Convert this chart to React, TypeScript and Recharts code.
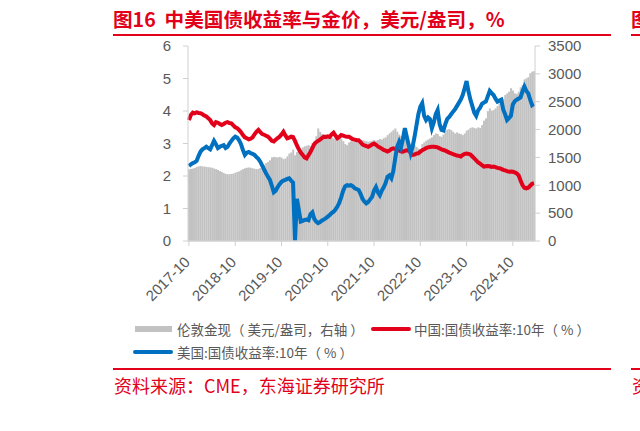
import React from "react";
import { ComposedChart, Bar, Line, XAxis, YAxis } from "recharts";

// semi-monthly observations, 2017-10 (first half) .. 2025-03 (second half)
const START_YEAR = 2017;
const START_MONTH = 10;
const N_POINTS = 180;

const xTickLabels = ["2017-10", "2018-10", "2019-10", "2020-10", "2021-10", "2022-10", "2023-10", "2024-10"];
const leftTicks = [0, 1, 2, 3, 4, 5, 6];
const rightTicks = [0, 500, 1000, 1500, 2000, 2500, 3000, 3500];

const goldPrice = [
  1285, 1295, 1300, 1310, 1330, 1340, 1345, 1340, 1335, 1330, 1325, 1320, 1315, 1300, 1290, 1275, 1255, 1240, 1220, 1205,
  1198, 1200, 1205, 1210, 1225, 1240, 1250, 1270, 1290, 1305, 1315, 1320, 1315, 1305, 1295, 1290, 1295, 1310, 1340, 1370,
  1400, 1420, 1450, 1500, 1510, 1505, 1500, 1510, 1495, 1470, 1480, 1520, 1570, 1590, 1640, 1540, 1600, 1620, 1630, 1680,
  1700, 1710, 1720, 1700, 1760, 1800, 1880, 2020, 1960, 1920, 1900, 1890, 1880, 1860, 1860, 1840, 1850, 1870, 1860, 1830,
  1790, 1740, 1720, 1770, 1790, 1780, 1790, 1810, 1780, 1790, 1810, 1800, 1790, 1780, 1790, 1800, 1810, 1800, 1810, 1830,
  1820, 1845, 1860, 1900, 1930, 1960, 1990, 2020, 1960, 1910, 1880, 1860, 1840, 1810, 1780, 1730, 1700, 1720, 1690, 1660,
  1650, 1740, 1770, 1800, 1820, 1840, 1860, 1900, 1930, 1920, 1880, 1870, 1910, 1980, 2000, 2010, 1990, 1960, 1930, 1950,
  1930, 1920, 1900, 1930, 1980, 2000, 2030, 2040, 2030, 2020, 2040, 2030, 2080, 2160, 2200, 2330, 2380, 2340, 2350, 2380,
  2420, 2470, 2500, 2550, 2620, 2650, 2680, 2740, 2700, 2650, 2640, 2680, 2760, 2800, 2900, 2920, 2940, 3010, 3040, 3050,
];

const chinaYield10y = [
  3.72, 3.88, 3.95, 3.93, 3.96, 3.94, 3.93, 3.9, 3.86, 3.83, 3.78, 3.72, 3.62, 3.57, 3.66, 3.64, 3.6, 3.57, 3.6, 3.64,
  3.66, 3.63, 3.62, 3.56, 3.5, 3.47, 3.42, 3.35, 3.26, 3.19, 3.16, 3.13, 3.15, 3.19, 3.28, 3.36, 3.42, 3.35, 3.29, 3.27,
  3.24, 3.21, 3.15, 3.08, 3.06, 3.12, 3.17, 3.21, 3.28, 3.36, 3.25, 3.16, 3.18, 3.21, 3.2, 3.08, 2.94, 2.82, 2.72, 2.65,
  2.57, 2.54, 2.64, 2.74, 2.86, 2.98, 3.04, 3.08, 3.12, 3.17, 3.21, 3.2, 3.22, 3.2, 3.28, 3.33, 3.24, 3.16, 3.2, 3.26,
  3.24, 3.22, 3.21, 3.21, 3.17, 3.13, 3.12, 3.1, 3.1, 3.04, 2.97, 2.94, 2.92, 2.9, 2.93, 2.97, 3.0, 2.96, 2.91, 2.88,
  2.84, 2.8, 2.78, 2.75, 2.78, 2.83, 2.85, 2.83, 2.8, 2.78, 2.76, 2.75, 2.77, 2.79, 2.78, 2.72, 2.65, 2.66, 2.69, 2.7,
  2.75, 2.79, 2.82, 2.86, 2.88, 2.89, 2.9, 2.9, 2.89, 2.88, 2.85, 2.82, 2.8, 2.78, 2.75, 2.72, 2.7, 2.67, 2.65, 2.63,
  2.62, 2.6, 2.65, 2.68, 2.69, 2.68, 2.66, 2.6, 2.54, 2.48, 2.42, 2.38, 2.33, 2.29, 2.3, 2.31, 2.3, 2.28, 2.29, 2.27,
  2.25, 2.24, 2.22, 2.19, 2.17, 2.15, 2.13, 2.14, 2.13, 2.11, 2.08, 2.02, 1.86, 1.72, 1.64, 1.62, 1.64, 1.7, 1.76, 1.78,
];

const usYield10y = [
  2.31, 2.36, 2.4, 2.42, 2.47, 2.62, 2.75, 2.82, 2.86, 2.9, 2.86, 2.82, 2.95, 3.08, 2.98, 2.86, 2.9, 2.93, 2.95, 2.86,
  2.9, 3.0, 3.08, 3.16, 3.21, 3.18, 3.1, 2.98, 2.8, 2.65, 2.72, 2.74, 2.7, 2.68, 2.65, 2.58, 2.53, 2.44, 2.32, 2.2,
  2.08, 1.98, 1.88, 1.7, 1.5, 1.55, 1.66, 1.75, 1.82, 1.86, 1.88, 1.91, 1.93, 1.86, 1.8, 0.0, 1.3, 0.95, 0.6, 0.62,
  0.65, 0.66, 0.64, 0.82, 0.88, 0.68, 0.6, 0.55, 0.58, 0.63, 0.66, 0.7, 0.75, 0.8, 0.86, 0.9, 0.97, 1.06, 1.18, 1.35,
  1.55, 1.68, 1.72, 1.7, 1.72, 1.68, 1.62, 1.6, 1.57, 1.45, 1.3, 1.22, 1.16, 1.2, 1.28, 1.36, 1.55, 1.66, 1.5, 1.41,
  1.55, 1.65, 1.78, 1.98, 2.02, 1.93, 2.15, 2.55, 2.9, 3.05, 2.88, 3.15, 3.47, 3.2, 2.95, 2.7, 2.9, 3.2, 3.55, 3.9,
  4.13, 4.24, 3.85, 3.72, 3.8, 3.75, 3.47, 3.65, 3.9, 4.03, 3.6, 3.42, 3.4, 3.6, 3.76, 3.82, 3.9, 3.98, 4.05, 4.15,
  4.25, 4.35, 4.49, 4.7, 4.92, 4.6, 4.35, 4.15, 3.95, 3.85, 4.02, 4.1, 4.22, 4.26, 4.29, 4.45, 4.62, 4.55, 4.49, 4.38,
  4.29, 4.32, 4.35, 4.05, 3.9, 3.72, 3.78, 3.85, 4.2, 4.3, 4.35, 4.38, 4.42, 4.6, 4.75, 4.62, 4.54, 4.35, 4.18, 4.22,
];

const dates: string[] = [];
for (let i = 0; i < N_POINTS; i++) {
  const m0 = START_MONTH - 1 + Math.floor(i / 2);
  const y = START_YEAR + Math.floor(m0 / 12);
  const mm = (m0 % 12) + 1;
  dates.push(`${y}-${String(mm).padStart(2, "0")}-${i % 2 === 0 ? "01" : "16"}`);
}

const data = dates.map((d, i) => ({
  date: d,
  gold: goldPrice[i],
  cn: chinaYield10y[i],
  us: usYield10y[i],
}));

const xTicks = xTickLabels.map((l) => `${l}-01`);

const RED = "#E2001A";
const BLUE = "#0070C0";
const GREY = "#C2C2C2";
const AXIS = "#D0D0D0";
const LABEL = "#595959";
const FONT = '"Liberation Sans", Arial, "Noto Sans CJK SC", sans-serif';
const CJK = '"Noto Sans CJK SC", "Liberation Sans", sans-serif';

const XTick = (props: any) => {
  const { x, payload } = props;
  const ax = x + 2;
  const ay = 263;
  return (
    <text
      x={ax}
      y={ay}
      textAnchor="end"
      fill={LABEL}
      fontSize={15}
      fontFamily={FONT}
      transform={`rotate(-45 ${ax} ${ay})`}
    >
      {String(payload.value).slice(0, 7)}
    </text>
  );
};

const textBase: React.CSSProperties = {
  position: "absolute",
  whiteSpace: "nowrap",
  textSpacingTrim: "space-all",
} as React.CSSProperties;

export default function App() {
  return (
    <div
      style={{
        position: "absolute",
        left: 0,
        top: 0,
        width: 640,
        height: 431,
        background: "#fff",
        overflow: "hidden",
        fontFamily: CJK,
      }}
    >
      {/* title */}
      <div style={{ ...textBase, left: 113, top: 7, fontSize: 19.6, fontWeight: 700, color: RED, lineHeight: "24px" }}>
        图16&nbsp;&nbsp;中美国债收益率与金价，美元/盎司，%
      </div>
      <div style={{ position: "absolute", left: 113, top: 34, width: 498, height: 2, background: RED }} />
      <div style={{ ...textBase, left: 631, top: 7, fontSize: 19.6, fontWeight: 700, color: RED, lineHeight: "24px", width: 9, overflow: "hidden" }}>
        图
      </div>
      <div style={{ position: "absolute", left: 631, top: 34, width: 9, height: 2, background: RED }} />

      <div style={{ position: "absolute", left: 0, top: 0 }}>
        <ComposedChart
          width={640}
          height={431}
          data={data}
          margin={{ top: 46, right: 0, bottom: 130, left: 0 }}
          barCategoryGap="5%"
        >
          <XAxis
            dataKey="date"
            ticks={xTicks}
            interval={0}
            tick={<XTick />}
            tickLine={{ stroke: AXIS }}
            axisLine={{ stroke: AXIS, strokeWidth: 1.5 }}
            tickSize={5}
            height={60}
          />
          <YAxis
            yAxisId="left"
            orientation="left"
            domain={[0, 6]}
            ticks={leftTicks}
            width={188}
            tickSize={5}
            tickMargin={12}
            axisLine={{ stroke: AXIS }}
            tickLine={{ stroke: AXIS }}
            tick={{ fill: LABEL, fontSize: 15, fontFamily: FONT }}
            allowDataOverflow
          />
          <YAxis
            yAxisId="right"
            orientation="right"
            domain={[0, 3500]}
            ticks={rightTicks}
            width={105}
            tickSize={5}
            tickMargin={8}
            axisLine={{ stroke: AXIS }}
            tickLine={{ stroke: AXIS }}
            tick={{ fill: LABEL, fontSize: 15, fontFamily: FONT, textAnchor: "start" }}
          />
          <Bar yAxisId="right" dataKey="gold" fill={GREY} isAnimationActive={false} />
          <Line
            yAxisId="left"
            type="linear"
            dataKey="cn"
            stroke={RED}
            strokeWidth={4}
            dot={false}
            activeDot={false}
            isAnimationActive={false}
          />
          <Line
            yAxisId="left"
            type="linear"
            dataKey="us"
            stroke={BLUE}
            strokeWidth={4}
            dot={false}
            activeDot={false}
            isAnimationActive={false}
          />
        </ComposedChart>
      </div>

      {/* legend */}
      <div style={{ position: "absolute", left: 135, top: 326, width: 37, height: 6, background: GREY }} />
      <div style={{ ...textBase, left: 177, top: 320, fontSize: 13.5, color: LABEL, lineHeight: "18px" }}>
        伦敦金现（ 美元/盎司，右轴 ）
      </div>
      <div style={{ position: "absolute", left: 371, top: 327, width: 40, height: 4, borderRadius: 2, background: RED }} />
      <div style={{ ...textBase, left: 414, top: 320, fontSize: 13.5, color: LABEL, lineHeight: "18px" }}>
        中国:国债收益率:10年（ % ）
      </div>
      <div style={{ position: "absolute", left: 133, top: 350, width: 40, height: 4, borderRadius: 2, background: BLUE }} />
      <div style={{ ...textBase, left: 177, top: 343, fontSize: 13.5, color: LABEL, lineHeight: "18px" }}>
        美国:国债收益率:10年（ % ）
      </div>

      {/* source */}
      <div style={{ position: "absolute", left: 113, top: 368, width: 498, height: 2, background: RED }} />
      <div style={{ ...textBase, left: 114, top: 373, fontSize: 18, color: RED, lineHeight: "24px" }}>
        资料来源：CME，东海证券研究所
      </div>
      <div style={{ position: "absolute", left: 631, top: 368, width: 9, height: 2, background: RED }} />
      <div style={{ ...textBase, left: 632, top: 373, fontSize: 18, color: RED, lineHeight: "24px", width: 8, overflow: "hidden" }}>
        资
      </div>
    </div>
  );
}
